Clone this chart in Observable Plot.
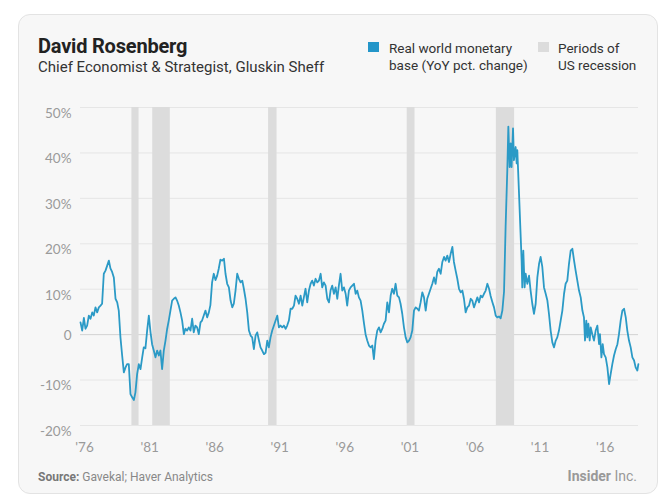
<!DOCTYPE html>
<html><head><meta charset="utf-8">
<script src="https://cdn.jsdelivr.net/npm/d3@7"></script>
<script src="https://cdn.jsdelivr.net/npm/@observablehq/plot@0.6"></script>
<style>
body{margin:0;background:#fff;width:664px;height:499px;overflow:hidden;position:relative;font-family:Roboto,sans-serif}
#card{position:absolute;left:18px;top:14px;width:638px;height:478px;border:1px solid #e3e3e3;border-radius:12px;background:#f7f7f7}
.t{position:absolute;white-space:nowrap}
#title{left:38px;top:36px;font-size:20px;line-height:20px;font-weight:700;color:#222;letter-spacing:-0.2px}
#sub{left:38px;top:60px;font-size:15px;line-height:15px;color:#333}
.sw{position:absolute;width:11px;height:10px}
.lg{font-size:13.5px;line-height:17px;color:#333}
#src{left:38px;top:471px;font-size:12px;line-height:12px;color:#888}
#src b{color:#777}
#brand{right:27px;top:469px;font-size:14px;line-height:14px;color:#999}
#chart{position:absolute;left:0;top:95px}
</style></head>
<body>
<div id="card"></div>
<div class="t" id="title">David Rosenberg</div>
<div class="t" id="sub">Chief Economist &amp; Strategist, Gluskin Sheff</div>
<div class="sw" style="left:368px;top:42px;background:#2496c9"></div>
<div class="t lg" style="left:389px;top:40px">Real world monetary<br>base (YoY pct. change)</div>
<div class="sw" style="left:538px;top:42px;background:#dcdcdc"></div>
<div class="t lg" style="left:558px;top:40px">Periods of<br>US recession</div>
<div class="t" id="src"><b>Source:</b> Gavekal; Haver Analytics</div>
<div class="t" id="brand"><b>Insider</b> Inc.</div>
<div id="chart"></div>
<script>
const years = [
1976.00,1976.13,1976.26,1976.38,1976.51,1976.64,1976.77,1976.90,1977.02,1977.15,1977.28,1977.41,1977.54,1977.66,1977.79,1977.92,
1978.05,1978.18,1978.30,1978.43,1978.56,1978.69,1978.82,1978.94,1979.07,1979.20,1979.33,1979.46,1979.58,1979.71,1979.84,1979.97,
1980.10,1980.22,1980.35,1980.48,1980.61,1980.74,1980.86,1980.99,1981.12,1981.25,1981.38,1981.50,1981.63,1981.76,1981.89,1982.02,
1982.14,1982.27,1982.40,1982.53,1982.66,1982.78,1982.91,1983.04,1983.17,1983.30,1983.42,1983.55,1983.68,1983.81,1983.94,1984.06,
1984.19,1984.32,1984.45,1984.58,1984.70,1984.83,1984.96,1985.09,1985.22,1985.34,1985.47,1985.60,1985.73,1985.86,1985.98,1986.11,
1986.24,1986.37,1986.50,1986.62,1986.75,1986.89,1987.02,1987.14,1987.27,1987.40,1987.53,1987.66,1987.78,1987.91,1988.04,1988.17,
1988.30,1988.43,1988.55,1988.68,1988.81,1988.94,1989.07,1989.19,1989.32,1989.45,1989.58,1989.71,1989.83,1989.96,1990.09,1990.22,
1990.35,1990.47,1990.60,1990.73,1990.86,1990.99,1991.12,1991.24,1991.37,1991.50,1991.63,1991.76,1991.88,1992.01,1992.14,1992.27,
1992.40,1992.52,1992.65,1992.78,1992.91,1993.04,1993.16,1993.29,1993.42,1993.55,1993.68,1993.80,1993.93,1994.06,1994.19,1994.32,
1994.45,1994.57,1994.70,1994.83,1994.96,1995.09,1995.21,1995.34,1995.47,1995.60,1995.73,1995.85,1995.98,1996.11,1996.24,1996.37,
1996.49,1996.62,1996.75,1996.88,1997.01,1997.14,1997.26,1997.39,1997.52,1997.65,1997.78,1997.90,1998.03,1998.16,1998.29,1998.42,
1998.54,1998.67,1998.80,1998.93,1999.06,1999.19,1999.31,1999.44,1999.57,1999.70,1999.83,1999.95,2000.08,2000.21,2000.34,2000.47,
2000.59,2000.72,2000.85,2000.98,2001.11,2001.24,2001.36,2001.49,2001.62,2001.75,2001.88,2002.00,2002.13,2002.26,2002.39,2002.52,
2002.64,2002.77,2002.90,2003.03,2003.16,2003.28,2003.41,2003.54,2003.67,2003.80,2003.93,2004.05,2004.18,2004.31,2004.44,2004.57,
2004.69,2004.82,2004.95,2005.08,2005.21,2005.34,2005.46,2005.59,2005.72,2005.85,2005.98,2006.10,2006.23,2006.36,2006.49,2006.62,
2006.75,2006.87,2007.00,2007.13,2007.26,2007.39,2007.51,2007.64,2007.77,2007.90,2008.02,2008.15,2008.28,2008.41,2008.54,2008.66,
2008.79,2008.87,2008.97,2009.05,2009.12,2009.23,2009.30,2009.43,2009.51,2009.56,2009.69,2009.82,2009.89,2009.94,2010.02,2010.12,
2010.20,2010.33,2010.46,2010.58,2010.71,2010.84,2010.97,2011.10,2011.23,2011.35,2011.48,2011.61,2011.74,2011.87,2011.99,2012.12,
2012.25,2012.38,2012.51,2012.63,2012.76,2012.89,2013.02,2013.15,2013.27,2013.40,2013.53,2013.66,2013.79,2013.92,2014.04,2014.17,
2014.30,2014.43,2014.56,2014.68,2014.76,2014.86,2014.94,2015.02,2015.12,2015.20,2015.32,2015.45,2015.58,2015.71,2015.84,2015.91,
2016.02,2016.12,2016.22,2016.35,2016.48,2016.61,2016.73,2016.86,2016.99,2017.12,2017.25,2017.37,2017.50,2017.63,2017.76,2017.89,
2018.01,2018.14,2018.27,2018.40,2018.53,2018.65,2018.78,2018.86
];
const values = [
2.7,0.9,3.7,1.3,2.0,4.2,3.5,4.9,4.2,6.0,4.9,6.0,6.4,6.8,13.4,14.1,
15.2,16.3,14.6,13.8,12.6,7.9,7.1,5.3,-0.6,-4.6,-8.3,-7.2,-6.5,-6.5,-13.1,-13.8,
-14.4,-12.7,-8.7,-6.5,-7.6,-5.0,-2.8,-3.0,0.9,4.2,0.5,-2.1,-3.5,-5.0,-3.5,-4.6,
-3.5,-7.6,-3.5,-1.3,1.3,3.1,5.3,7.5,7.9,8.2,7.5,6.4,4.9,3.1,0.1,1.3,
0.9,1.6,0.9,3.5,0.5,2.0,1.6,0.1,2.7,3.1,4.2,5.3,3.8,4.9,6.5,11.5,
13.4,12.0,13.0,14.5,16.5,16.3,16.7,13.4,11.2,10.4,7.5,6.0,6.8,9.7,13.4,12.3,
11.5,11.9,10.1,7.9,4.9,0.9,-0.2,-0.6,-3.2,-0.2,0.5,-1.3,-2.8,-3.5,-4.3,-4.0,
-1.3,-2.8,-0.6,0.9,2.0,3.1,4.2,1.6,2.0,1.6,2.0,1.3,2.0,3.1,5.7,5.7,
6.4,8.6,7.9,6.8,8.6,6.4,8.2,10.1,7.1,9.7,11.2,11.9,10.8,12.3,11.5,11.9,
13.4,10.4,11.5,10.8,7.9,7.1,9.7,10.8,9.0,10.4,7.9,10.8,13.4,9.7,10.4,9.0,
6.4,9.7,10.4,10.8,11.2,9.0,9.7,8.2,7.5,5.3,2.5,0.1,-1.3,-2.4,-2.8,-2.4,
-5.4,-1.3,0.9,1.6,0.5,1.3,2.4,3.1,7.1,4.9,8.6,10.1,9.0,11.2,8.6,8.2,
6.8,4.6,1.6,-0.6,-1.7,-1.3,-0.6,0.9,5.3,6.0,5.7,5.3,7.1,9.3,8.2,5.3,
7.9,9.0,10.1,11.2,12.6,11.2,13.8,14.5,13.4,16.0,17.1,16.3,17.4,16.0,17.8,19.3,
16.0,14.1,12.3,10.1,9.3,9.7,7.9,4.9,6.0,6.4,7.9,7.5,6.0,7.1,8.2,7.1,
8.6,8.2,9.0,9.7,11.2,10.1,8.5,7.2,6.0,4.2,3.8,4.0,3.6,5.3,9.5,23.7,
36.2,45.8,36.9,42.1,36.9,45.4,38.4,41.3,37.7,40.6,31.1,21.5,16.3,10.4,18.5,10.4,
13.4,11.2,13.0,9.7,6.8,4.6,6.8,12.6,15.6,17.1,14.9,10.4,9.0,7.5,4.6,0.9,
-1.7,-2.8,-1.3,-0.6,0.9,3.1,5.3,9.0,11.2,11.9,15.6,18.5,18.9,16.3,14.1,11.9,
9.7,8.2,5.3,3.8,-1.3,3.1,-0.6,2.4,-1.3,1.6,0.1,-1.3,0.9,2.0,-2.1,0.1,
-5.0,-2.1,-4.3,-5.0,-7.2,-10.9,-8.7,-6.5,-4.6,-3.2,-2.1,0.1,3.1,5.3,5.7,3.8,
0.9,-1.3,-2.8,-5.0,-5.7,-7.2,-7.9,-6.5
];
const recessionStart = [1979.95, 1981.55, 1990.45, 2001.1, 2007.95];
const recessionEnd   = [1980.5, 1982.9, 1991.1, 2001.7, 2009.35];
const xTicks = [1976, 1981, 1986, 1991, 1996, 2001, 2006, 2011, 2016];
const yTicks = [-20, -10, 0, 10, 20, 30, 40, 50];

const series = years.map((t, i) => ({t, v: values[i]}));
const recessions = recessionStart.map((s, i) => ({start: s, end: recessionEnd[i]}));
const xFmt = d => "'" + String(d).slice(2);
const yFmt = v => v === 0 ? "0" : v + "%";

const hasAxisMarks = typeof Plot.axisX === "function";
const marks = [
  Plot.ruleY(yTicks.filter(v => v !== 0), {stroke: "#e6e6e6", strokeWidth: 1}),
  Plot.ruleY([0], {stroke: "#d2d2d2", strokeWidth: 1}),
  Plot.rect(recessions, {x1: "start", x2: "end", fill: "#dcdcdc"}),
  Plot.line(series, {x: "t", y: "v", stroke: "#2b9ac6", strokeWidth: 1.8, strokeLinejoin: "round"})
];
if (hasAxisMarks) {
  marks.push(Plot.axisX({ticks: xTicks, tickFormat: xFmt, tickSize: 0, tickPadding: 17, dx: 4, label: null, fill: "#9a9a9a"}));
  marks.push(Plot.axisY({ticks: yTicks.filter(v => v !== 0), tickFormat: yFmt, tickSize: 0, tickPadding: 9, dy: 6, label: null, fill: "#9a9a9a"}));
  marks.push(Plot.axisY({ticks: [0], tickFormat: yFmt, tickSize: 0, tickPadding: 9, dy: 1, label: null, fill: "#9a9a9a"}));
}
const chart = Plot.plot({
  width: 664, height: 365,
  marginLeft: 80, marginRight: 26, marginTop: 12, marginBottom: 35,
  style: {background: "transparent", fontFamily: "Lato, sans-serif", fontSize: "13.5px", color: "#9a9a9a", overflow: "visible"},
  x: hasAxisMarks ? {domain: [1976, 2018.87], axis: null} : {domain: [1976, 2018.87], ticks: xTicks, tickFormat: xFmt, tickSize: 0, tickPadding: 17, label: null},
  y: hasAxisMarks ? {domain: [-20, 50], axis: null} : {domain: [-20, 50], ticks: yTicks, tickFormat: yFmt, tickSize: 0, tickPadding: 9, label: null},
  marks
});
document.getElementById("chart").appendChild(chart);
</script>
</body></html>
